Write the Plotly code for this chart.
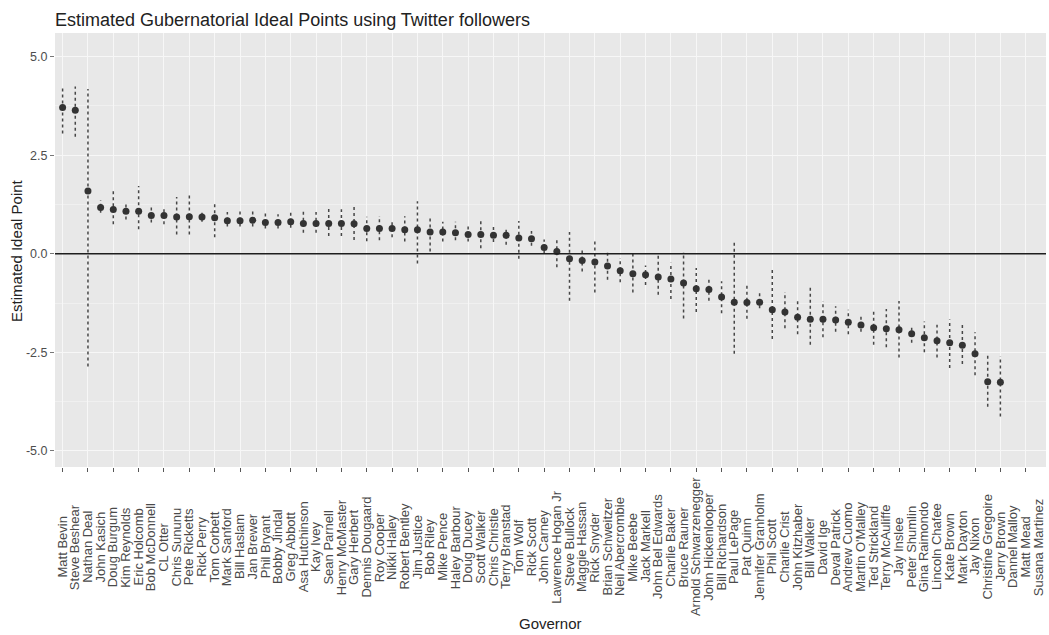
import plotly.graph_objects as go

# Governors in plotted order
governors = [
    "Matt Bevin", "Steve Beshear", "Nathan Deal", "John Kasich", "Doug Burgum",
    "Kim Reynolds", "Eric Holcomb", "Bob McDonnell", "CL Otter", "Chris Sununu",
    "Pete Ricketts", "Rick Perry", "Tom Corbett", "Mark Sanford", "Bill Haslam",
    "Jan Brewer", "Phil Bryant", "Bobby Jindal", "Greg Abbott", "Asa Hutchinson",
    "Kay Ivey", "Sean Parnell", "Henry McMaster", "Gary Herbert", "Dennis Dougaard",
    "Roy Cooper", "Nikki Haley", "Robert Bentley", "Jim Justice", "Bob Riley",
    "Mike Pence", "Haley Barbour", "Doug Ducey", "Scott Walker", "Chris Christie",
    "Terry Branstad", "Tom Wolf", "Rick Scott", "John Carney", "Lawrence Hogan Jr",
    "Steve Bullock", "Maggie Hassan", "Rick Snyder", "Brian Schweitzer", "Neil Abercrombie",
    "Mike Beebe", "Jack Markell", "John Bel Edwards", "Charlie Baker", "Bruce Rauner",
    "Arnold Schwarzenegger", "John Hickenlooper", "Bill Richardson", "Paul LePage", "Pat Quinn",
    "Jennifer Granholm", "Phil Scott", "Charlie Crist", "John Kitzhaber", "Bill Walker",
    "David Ige", "Deval Patrick", "Andrew Cuomo", "Martin O'Malley", "Ted Strickland",
    "Terry McAuliffe", "Jay Inslee", "Peter Shumlin", "Gina Raimondo", "Lincoln Chafee",
    "Kate Brown", "Mark Dayton", "Jay Nixon", "Christine Gregoire", "Jerry Brown",
    "Dannel Malloy", "Matt Mead", "Susana Martinez",
]

# Posterior point estimates
ideal = [
    3.71, 3.64, 1.59, 1.17, 1.12, 1.08, 1.08, 0.97, 0.97, 0.93,
    0.94, 0.93, 0.91, 0.84, 0.84, 0.85, 0.79, 0.79, 0.81, 0.77,
    0.77, 0.77, 0.77, 0.76, 0.64, 0.64, 0.64, 0.61, 0.61, 0.55,
    0.55, 0.53, 0.49, 0.49, 0.47, 0.47, 0.40, 0.38, 0.16, 0.06,
    -0.13, -0.17, -0.21, -0.31, -0.43, -0.51, -0.53, -0.59, -0.64, -0.74,
    -0.89, -0.91, -1.10, -1.23, -1.24, -1.23, -1.42, -1.48, -1.61, -1.66,
    -1.66, -1.68, -1.74, -1.81, -1.88, -1.90, -1.93, -2.03, -2.13, -2.21,
    -2.26, -2.32, -2.54, -3.25, -3.26, None, None, None,
]

# Interval lower bounds
lower = [
    3.05, 2.97, -2.86, 1.04, 0.75, 0.87, 0.62, 0.79, 0.75, 0.49,
    0.49, 0.81, 0.42, 0.69, 0.69, 0.69, 0.64, 0.64, 0.66, 0.53,
    0.53, 0.45, 0.45, 0.35, 0.32, 0.34, 0.42, 0.31, -0.25, 0.06,
    0.31, 0.34, 0.31, 0.14, 0.30, 0.23, -0.13, 0.20, 0.00, -0.34,
    -1.19, -0.45, -0.98, -0.66, -0.72, -0.98, -0.79, -1.04, -1.15, -1.64,
    -1.48, -1.19, -1.51, -2.54, -1.65, -1.38, -2.16, -1.89, -2.04, -2.31,
    -2.12, -1.98, -2.04, -1.98, -2.31, -2.37, -2.63, -2.26, -2.50, -2.63,
    -2.90, -2.80, -3.08, -3.88, -4.13, None, None, None,
]

# Interval upper bounds
upper = [
    4.24, 4.24, 4.18, 1.36, 1.62, 1.30, 1.72, 1.19, 1.19, 1.44,
    1.51, 1.10, 1.32, 1.06, 1.07, 1.07, 1.07, 1.00, 1.07, 1.13,
    1.06, 1.19, 1.13, 1.23, 0.94, 0.96, 0.85, 0.95, 1.33, 0.95,
    0.81, 0.81, 0.70, 0.89, 0.68, 0.68, 0.83, 0.58, 0.36, 0.36,
    0.55, 0.10, 0.36, 0.08, -0.11, 0.04, -0.30, 0.00, -0.23, 0.04,
    -0.36, -0.62, -0.70, 0.31, -0.79, -1.00, -0.36, -0.97, -1.14, -0.82,
    -1.20, -1.33, -1.42, -1.59, -1.40, -1.40, -1.20, -1.80, -1.72, -1.80,
    -1.67, -1.76, -1.99, -2.53, -2.60, None, None, None,
]

y_ticks = [5.0, 2.5, 0.0, -2.5, -5.0]
y_tick_labels = ["5.0", "2.5", "0.0", "-2.5", "-5.0"]

FONT = "Liberation Sans, Arial, sans-serif"

# Vertical interval segments, one per governor
seg_x, seg_y = [], []
for g, lo, hi in zip(governors, lower, upper):
    if lo is None or hi is None:
        continue
    seg_x += [g, g, None]
    seg_y += [lo, hi, None]

fig = go.Figure()
fig.add_trace(go.Scatter(
    x=seg_x, y=seg_y, mode="lines",
    line=dict(color="#474747", width=1.5, dash="dot"),
    hoverinfo="skip", showlegend=False,
))
fig.add_trace(go.Scatter(
    x=governors, y=ideal, mode="markers",
    marker=dict(color="#333333", size=7),
    showlegend=False,
))

fig.add_hline(y=0, line=dict(color="#1e1e1e", width=1.6))

# Governor names, centred under each tick
for g in governors:
    fig.add_annotation(
        x=g, xref="x", y=-0.184, yref="paper",
        text=g, textangle=-90, showarrow=False,
        xanchor="center", yanchor="middle",
        font=dict(family=FONT, size=13, color="#4a4a4a"),
    )

# Axis titles
fig.add_annotation(
    x=0.5, xref="paper", y=-0.36, yref="paper",
    text="Governor", showarrow=False, xanchor="center", yanchor="middle",
    font=dict(family=FONT, size=15, color="#222222"),
)
fig.add_annotation(
    x=-0.0394, xref="paper", y=0.5, yref="paper",
    text="Estimated Ideal Point", textangle=-90, showarrow=False,
    xanchor="center", yanchor="middle",
    font=dict(family=FONT, size=15, color="#222222"),
)

fig.update_layout(
    width=1049, height=635,
    margin=dict(l=55, r=3, t=33, b=168),
    paper_bgcolor="white",
    plot_bgcolor="#E8E8E8",
    title=dict(
        text="Estimated Gubernatorial Ideal Points using Twitter followers",
        x=0, xref="paper", xanchor="left",
        y=1 - 19.5 / 635, yref="container", yanchor="middle",
        font=dict(family=FONT, size=18, color="#222222"),
    ),
    font=dict(family=FONT),
)

fig.update_xaxes(
    type="category", categoryorder="array", categoryarray=governors,
    range=[-0.6, len(governors) - 0.4],
    showticklabels=False,
    ticks="outside", ticklen=4, tickwidth=1, tickcolor="#555555",
    showgrid=True, gridcolor="#F7F7F7", gridwidth=1,
    zeroline=False, showline=False,
)
fig.update_yaxes(
    range=[-5.41, 5.6],
    tickmode="array", tickvals=y_ticks, ticktext=y_tick_labels,
    tickfont=dict(family=FONT, size=12.5, color="#4d4d4d"),
    ticks="outside", ticklen=4, tickwidth=1, tickcolor="#777777",
    showgrid=True, gridcolor="#F7F7F7", gridwidth=1,
    minor=dict(tickvals=[3.75, 1.25, -1.25, -3.75], showgrid=True,
               gridcolor="#F0F0F0", gridwidth=0.5, ticks=""),
    zeroline=False, showline=False,
)

fig.write_html("out.html")
